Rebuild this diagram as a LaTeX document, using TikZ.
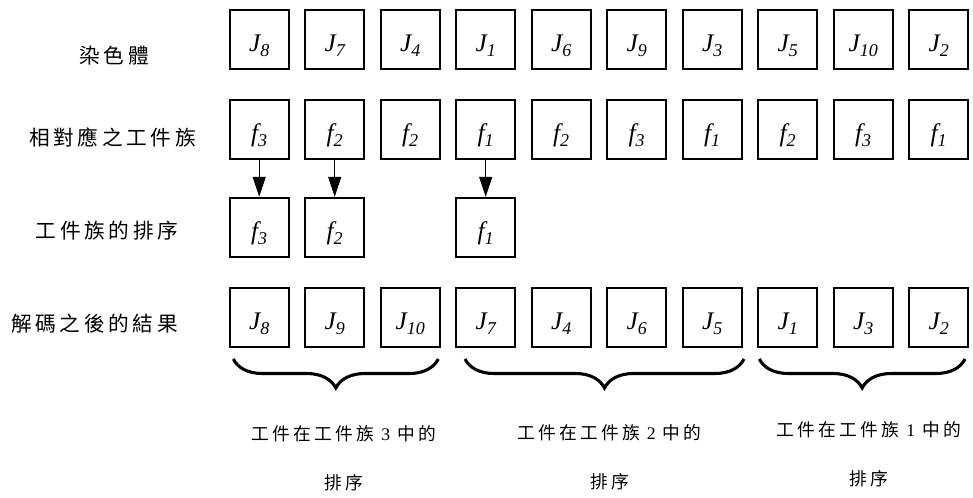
\documentclass[tikz,border=0pt]{standalone}
\usepackage{fontspec}
\setmainfont{Liberation Serif}
\newfontfamily\cjkfont[LetterSpace=18]{Noto Sans CJK TC}
\usetikzlibrary{arrows.meta,decorations.pathreplacing}

% italic symbol with a lowered, slightly smaller index
\newcommand\sublab[2]{\textit{#1\raisebox{-0.2em}{\fontsize{13.5pt}{13.5pt}\selectfont #2}}}

\begin{document}
\begin{tikzpicture}[x=0.75pt,y=-0.75pt,
  cell/.style={draw=black,line width=1.5pt,minimum size=44.25pt,inner sep=0pt,
               text height=18pt,text depth=0pt,
               font=\fontsize{19pt}{21pt}\selectfont},
  rowlabel/.style={font=\cjkfont\fontsize{15.5pt}{18pt}\selectfont,inner sep=0pt},
  grouplabel/.style={font=\cjkfont\fontsize{13.3pt}{36.75pt}\selectfont,
                     align=center,inner sep=0pt},
  pointer/.style={draw=black,line width=0.75pt,
                  -{Triangle[width=9.75pt,length=15pt]}},
  groupbrace/.style={draw=black,decorate,
                     decoration={brace,mirror,amplitude=21.75pt},line width=2.3pt}
]
\useasboundingbox (0,0) rectangle (973,497);

% row titles
\node[rowlabel] (t1) at (114,56)  {染色體};
\node[rowlabel] (t2) at (112.5,137.5) {相對應之工件族};
\node[rowlabel] (t3) at (107,231) {工件族的排序};
\node[rowlabel] (t4) at (94.5,324) {解碼之後的結果};

% chromosome
\foreach \lab [count=\i] in {8,7,4,1,6,9,3,5,10,2}
  \node[cell] (a\i) at ({259.2+75.5*(\i-1)},39.3) {\sublab{J}{\lab}};

% families of the genes
\foreach \lab [count=\i] in {3,2,2,1,2,3,1,2,3,1}
  \node[cell] (b\i) at ({259.2+75.5*(\i-1)},129.3) {\sublab{f}{\lab}};

% order of the families
\foreach \col/\lab in {1/3,2/2,4/1}
  \node[cell] (c\col) at ({259.2+75.5*(\col-1)},227.3) {\sublab{f}{\lab}};

% decoded sequence
\foreach \lab [count=\i] in {8,9,10,7,4,6,5,1,3,2}
  \node[cell] (d\i) at ({259.2+75.5*(\i-1)},317.5) {\sublab{J}{\lab}};

% arrows from first occurrence of each family
\foreach \col in {1,2,4}
  \draw[pointer] (b\col) -- (c\col);

% braces grouping the decoded jobs
\coordinate (g1s) at (233.3,359);
\coordinate (g1e) at (438.3,359);
\coordinate (g2s) at (465,359);
\coordinate (g2e) at (744,359);
\coordinate (g3s) at (759.3,359);
\coordinate (g3e) at (965,359);
\draw[groupbrace] (g1s) -- (g1e);
\draw[groupbrace] (g2s) -- (g2e);
\draw[groupbrace] (g3s) -- (g3e);

% group captions
\node[grouplabel] (l1) at (344,458.5) {工件在工件族 {\rmfamily 3} 中的\\排序};
\node[grouplabel] (l2) at (609.5,457.5) {工件在工件族 {\rmfamily 2} 中的\\排序};
\node[grouplabel] (l3) at (869,454.5) {工件在工件族 {\rmfamily 1} 中的\\排序};
\end{tikzpicture}
\end{document}
